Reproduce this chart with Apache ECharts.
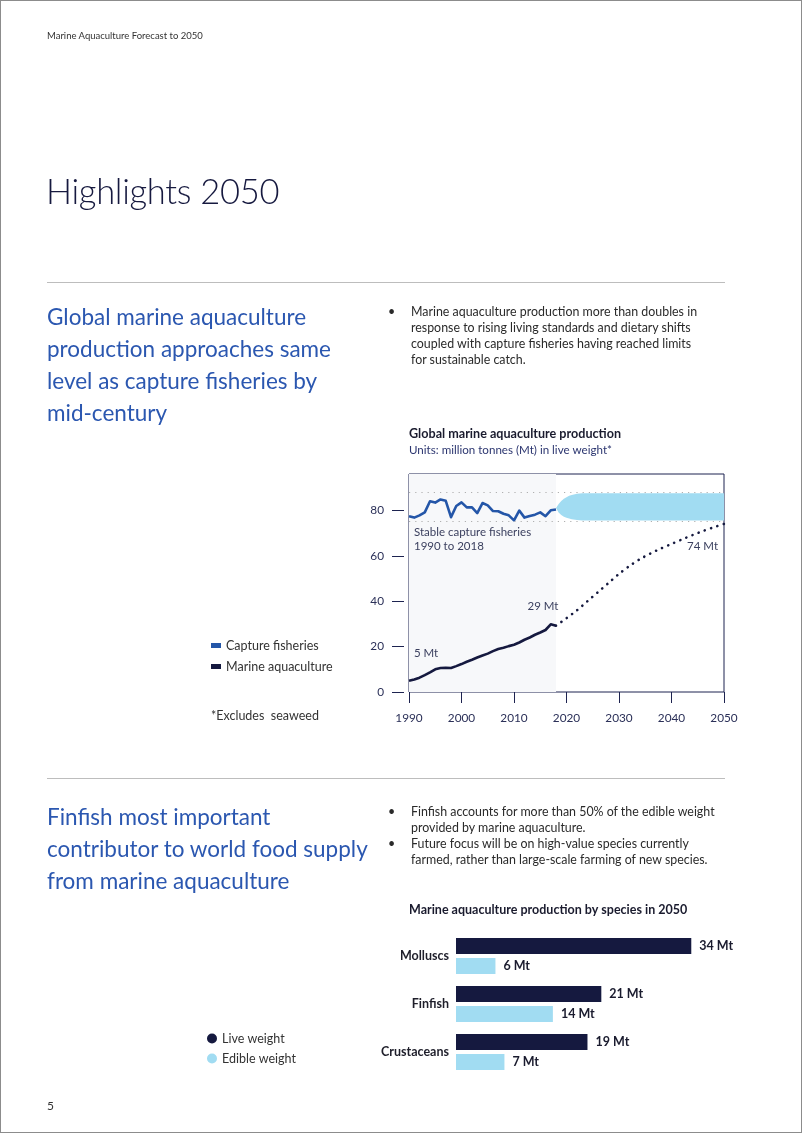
<!DOCTYPE html>
<html>
<head>
<meta charset="utf-8">
<script src="https://cdn.jsdelivr.net/npm/echarts@6/dist/echarts.min.js"></script>
<style>
  html, body { margin: 0; padding: 0; background: #fff; }
  #page { position: relative; width: 802px; height: 1133px; box-sizing: border-box; border: 1px solid #8c8c8c; overflow: hidden; font-family: Lato, "Noto Sans", sans-serif; }
  #chart { position: absolute; left: 0; top: 0; width: 802px; height: 1133px; }
  .t { position: absolute; white-space: nowrap; pointer-events: none; }
  .hdr { left: 46px; top: 29px; font-size: 9.5px; color: #333; }
  .h1 { left: 45px; top: 169px; font-size: 34.5px; font-weight: 300; color: #16193f; letter-spacing: -0.3px; }
  .rule { position: absolute; left: 46px; width: 678px; height: 0; border-top: 1px solid #bdbdbd; }
  .h2 { left: 46px; font-size: 22.5px; line-height: 32px; color: #2b57b0; }
  .bul { left: 387px; font-size: 12.4px; line-height: 16px; color: #2a2a2a; }
  .bul div { position: relative; padding-left: 23px; }
  .bul div::before { content: "\2022"; position: absolute; left: 0; top: 0; }
  .pg { left: 46px; top: 1097px; font-size: 12px; color: #333; }
</style>
</head>
<body>
<div id="page">
  <div id="chart"></div>
  <div class="t hdr">Marine Aquaculture Forecast to 2050</div>
  <div class="t h1">Highlights 2050</div>
  <div class="rule" style="top:281px"></div>
  <div class="t h2" style="top:300px">Global marine aquaculture<br>production approaches same<br>level as capture fisheries by<br>mid-century</div>
  <div class="t bul" style="top:303px">
    <div>Marine aquaculture production more than doubles in<br>response to rising living standards and dietary shifts<br>coupled with capture fisheries having reached limits<br>for sustainable catch.</div>
  </div>
  <div class="rule" style="top:777px"></div>
  <div class="t h2" style="top:800px">Finfish most important<br>contributor to world food supply<br>from marine aquaculture</div>
  <div class="t bul" style="top:803px">
    <div>Finfish accounts for more than 50% of the edible weight<br>provided by marine aquaculture.</div>
    <div>Future focus will be on high-value species currently<br>farmed, rather than large-scale farming of new species.</div>
  </div>
  <div class="t pg">5</div>
</div>
<script>
// ---- Data: line chart ----
const histYears = [1990,1991,1992,1993,1994,1995,1996,1997,1998,1999,2000,2001,2002,2003,2004,2005,2006,2007,2008,2009,2010,2011,2012,2013,2014,2015,2016,2017,2018];
const captureFisheries = [77.4,76.8,77.8,79.1,84.0,83.4,84.8,84.2,77.0,81.9,83.5,81.3,81.3,78.8,83.2,82.2,79.7,79.6,78.5,77.8,75.6,79.9,76.8,77.5,78.1,79.1,77.4,80.0,80.4];
const marineAquaculture = [5.0,5.5,6.3,7.4,8.6,10.0,10.6,10.7,10.6,11.4,12.3,13.3,14.2,15.2,16.1,16.9,18.0,18.9,19.5,20.2,20.8,21.8,23.0,24.0,25.2,26.2,27.3,29.8,29.2];
const projYears = [2018,2020,2022,2024,2026,2028,2030,2032,2034,2036,2038,2040,2042,2044,2046,2048,2050];
const aquacultureProjection = [29.2,32.5,36.0,40.0,44.0,48.0,52.0,55.5,58.5,61.0,63.2,65.2,67.2,69.1,70.9,72.5,74.0];
const bandYears = [2018,2018.5,2019,2019.5,2020,2020.5,2021,2022,2023,2024,2025,2050];
const captureBandHigh = [81.0,82.8,84.1,85.1,85.8,86.4,86.8,87.3,87.5,87.5,87.5,87.5];
const captureBandLow = [81.0,79.0,77.9,77.2,76.7,76.4,76.1,75.7,75.55,75.5,75.5,75.5];
const rangeLines = [88, 75];
const yTicks = [0, 20, 40, 60, 80];

// ---- Data: bar chart ----
const species = ['Molluscs', 'Finfish', 'Crustaceans'];
const liveWeight = [34, 21, 19];
const edibleWeight = [5.7, 14, 7];

const pairs = (xs, ys) => xs.map((x, i) => [x, ys[i]]);

const NAVY = '#15193f';
const BLUE = '#2456a8';
const LIGHT = '#a1dcf2';
const AXIS = '#1d2350';
const LABEL = '#2b3058';
const FONT = 'Lato, "Noto Sans", sans-serif';

const chart = echarts.init(document.getElementById('chart'), null, { renderer: 'canvas' });

const option = {
  animation: false,
  textStyle: { fontFamily: FONT },
  title: [
    { left: 408, top: 426, padding: 0, text: 'Global marine aquaculture production',
      textStyle: { fontSize: 12.6, fontWeight: 'bold', color: '#1a1b2e', fontFamily: FONT } },
    { left: 408, top: 443, padding: 0, text: 'Units: million tonnes (Mt) in live weight*',
      textStyle: { fontSize: 11.6, fontWeight: 'normal', color: '#2c3670', fontFamily: FONT } },
    { left: 210, top: 708, padding: 0, text: '*Excludes  seaweed',
      textStyle: { fontSize: 12.5, fontWeight: 'normal', color: '#333', fontFamily: FONT } },
    { left: 408, top: 902, padding: 0, text: 'Marine aquaculture production by species in 2050',
      textStyle: { fontSize: 12.5, fontWeight: 'bold', color: '#1a1b2e', fontFamily: FONT } }
  ],
  legend: [
    { left: 210, top: 638, padding: 0, orient: 'vertical', icon: 'rect', itemWidth: 10, itemHeight: 5, itemGap: 8,
      data: ['Capture fisheries', 'Marine aquaculture'],
      textStyle: { fontSize: 12.5, color: '#333', fontFamily: FONT }, selectedMode: false },
    { left: 206, top: 1031, padding: 0, orient: 'vertical', icon: 'circle', itemWidth: 10, itemHeight: 10, itemGap: 7,
      data: ['Live weight', 'Edible weight'],
      textStyle: { fontSize: 12.5, color: '#333', fontFamily: FONT }, selectedMode: false }
  ],
  grid: [
    { left: 408, top: 473, width: 315, height: 218, show: true, borderColor: AXIS, borderWidth: 1, backgroundColor: 'transparent' },
    { left: 455, top: 931, width: 276.8, height: 144 }
  ],
  xAxis: [
    { gridIndex: 0, type: 'value', min: 1990, max: 2050, interval: 10, offset: 5,
      axisLine: { show: false }, splitLine: { show: false },
      axisTick: { show: true, length: 11, lineStyle: { color: AXIS, width: 1 } },
      axisLabel: { margin: 15, fontSize: 11.8, color: LABEL, formatter: v => String(v), fontFamily: FONT } },
    { gridIndex: 1, type: 'value', min: 0, max: 40, show: false }
  ],
  yAxis: [
    { gridIndex: 0, type: 'value', min: 0, max: 96, offset: 5,
      axisLine: { show: false }, splitLine: { show: false },
      axisTick: { show: true, length: 12, customValues: yTicks, lineStyle: { color: AXIS, width: 1 } },
      axisLabel: { margin: 20, fontSize: 11.8, color: LABEL, customValues: yTicks, fontFamily: FONT } },
    { gridIndex: 1, type: 'category', data: species, inverse: true,
      axisLine: { show: false }, axisTick: { show: false }, splitLine: { show: false },
      axisLabel: { margin: 7, fontSize: 12.5, fontWeight: 'bold', color: '#1e1e2a', fontFamily: FONT } }
  ],
  series: [
    { name: 'band', type: 'custom', xAxisIndex: 0, yAxisIndex: 0, silent: true, z: 1,
      data: [[bandYears[0], captureBandHigh[0]]],
      renderItem: (params, api) => {
        const top = bandYears.map((y, i) => api.coord([y, captureBandHigh[i]]));
        const bot = bandYears.map((y, i) => api.coord([y, captureBandLow[i]])).reverse();
        return { type: 'polygon', shape: { points: top.concat(bot) }, style: { fill: LIGHT } };
      } },
    { name: 'Capture fisheries', type: 'line', xAxisIndex: 0, yAxisIndex: 0,
      data: pairs(histYears, captureFisheries), symbol: 'none', color: BLUE,
      lineStyle: { color: BLUE, width: 2.6, join: 'round' }, z: 3,
      markArea: { silent: true, itemStyle: { color: '#f7f8fa' }, data: [[{ xAxis: 1990 }, { xAxis: 2018 }]] },
      markLine: { silent: true, symbol: 'none', label: { show: false },
        lineStyle: { color: '#b0b0b0', type: [1.2, 5], width: 1.2 },
        data: rangeLines.map(v => ({ yAxis: v })) },
      markPoint: { silent: true, symbol: 'circle', symbolSize: 1, itemStyle: { color: 'rgba(0,0,0,0)' },
        data: [{ coord: [1990, captureFisheries[0]], value: 0,
          label: { show: true, position: 'inside', align: 'left', verticalAlign: 'middle', offset: [5, 23],
            formatter: 'Stable capture fisheries\n1990 to 2018', fontSize: 11.5, lineHeight: 14, color: '#3a3f5e', fontFamily: FONT } }] } },
    { name: 'Marine aquaculture', type: 'line', xAxisIndex: 0, yAxisIndex: 0,
      data: pairs(histYears, marineAquaculture), symbol: 'none', color: NAVY,
      lineStyle: { color: NAVY, width: 2.6, join: 'round' }, z: 3,
      markPoint: { silent: true, symbol: 'circle', symbolSize: 1, itemStyle: { color: 'rgba(0,0,0,0)' },
        label: { show: true, position: 'inside', verticalAlign: 'middle', fontSize: 11.5, color: '#3a3f5e', fontFamily: FONT },
        data: [
          { coord: [1990, marineAquaculture[0]], label: { align: 'left', offset: [5, -27], formatter: Math.round(marineAquaculture[0]) + ' Mt' } },
          { coord: [2018, marineAquaculture[marineAquaculture.length - 1]], label: { align: 'center', offset: [-13, -19], formatter: Math.round(marineAquaculture[marineAquaculture.length - 1]) + ' Mt' } }
        ] } },
    { name: 'projection', type: 'line', xAxisIndex: 0, yAxisIndex: 0,
      data: pairs(projYears, aquacultureProjection), symbol: 'none', smooth: 0.3,
      lineStyle: { color: NAVY, width: 2.6, type: [0.1, 6.5], cap: 'round' }, z: 3,
      markPoint: { silent: true, symbol: 'circle', symbolSize: 1, itemStyle: { color: 'rgba(0,0,0,0)' },
        data: [{ coord: [2050, aquacultureProjection[aquacultureProjection.length - 1]],
          label: { show: true, position: 'inside', align: 'right', verticalAlign: 'middle', offset: [-6, 22],
            formatter: Math.round(aquacultureProjection[aquacultureProjection.length - 1]) + ' Mt', fontSize: 11.5, color: '#3a3f5e', fontFamily: FONT } }] } },
    { name: 'Live weight', type: 'bar', xAxisIndex: 1, yAxisIndex: 1, data: liveWeight,
      barWidth: 16, barGap: '25%', itemStyle: { color: NAVY }, color: NAVY,
      label: { show: true, position: 'right', distance: 8, fontSize: 12.5, fontWeight: 'bold', color: '#1a1b2e', fontFamily: FONT,
        formatter: p => Math.round(p.value) + ' Mt' } },
    { name: 'Edible weight', type: 'bar', xAxisIndex: 1, yAxisIndex: 1, data: edibleWeight,
      barWidth: 16, barGap: '25%', itemStyle: { color: LIGHT }, color: LIGHT,
      label: { show: true, position: 'right', distance: 8, fontSize: 12.5, fontWeight: 'bold', color: '#1a1b2e', fontFamily: FONT,
        formatter: p => Math.round(p.value) + ' Mt' } }
  ]
};
chart.setOption(option);
</script>
</body>
</html>
